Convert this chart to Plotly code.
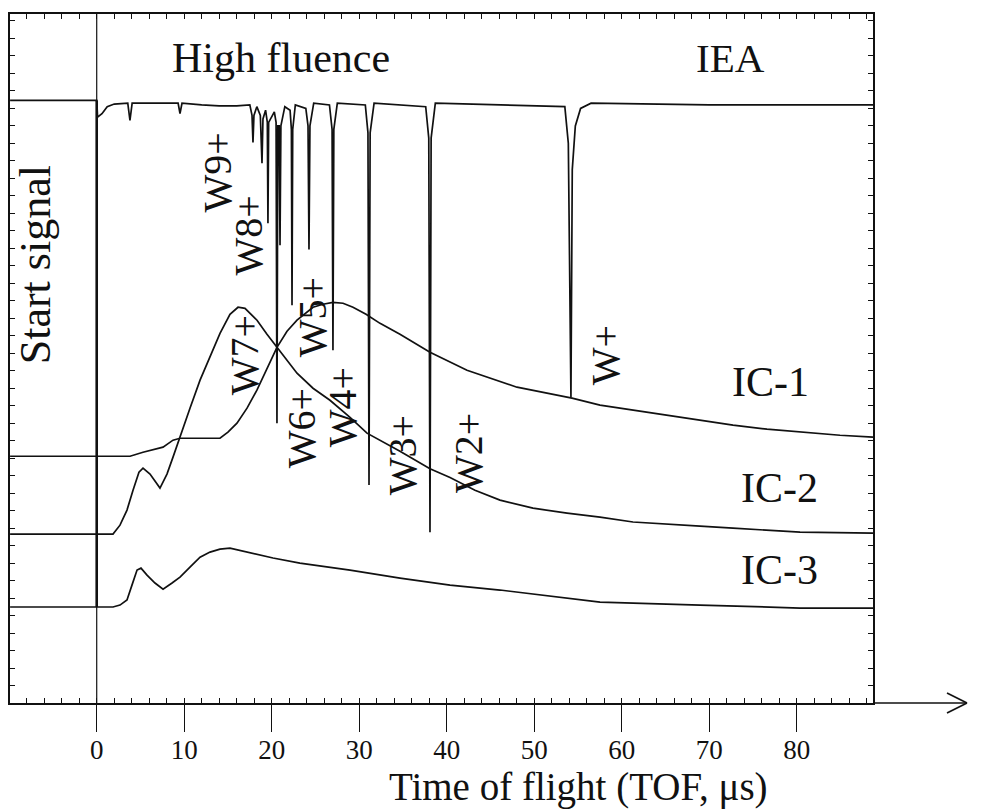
import plotly.graph_objects as go

# ---------------- data (TOF in microseconds, signal in arbitrary divisions) ----------------
iea_tof = [-9.9, 0.0, 0.1, 0.6, 1.2, 2.0, 3.55, 3.8, 4.05, 6.0, 9.3, 9.52, 9.75, 12.0, 14.0, 16.0,
           17.5, 17.75, 17.86, 17.97, 18.3, 18.7, 18.89, 19.0, 19.3, 19.5, 19.57, 19.65, 20.3, 20.5,
           20.6, 20.7, 20.85, 20.95, 21.05, 21.5, 22.1, 22.25, 22.32, 22.4, 22.7, 23.9, 24.15, 24.26,
           24.37, 24.8, 26.6, 26.9, 27.0, 27.1, 27.5, 30.7, 31.0, 31.12, 31.25, 31.7, 37.6, 37.95,
           38.09, 38.22, 38.7, 53.5, 53.9, 54.2, 54.35, 54.7, 55.3, 56.5, 70.0, 88.72]
iea_signal = [34.46, 34.46, 33.5, 33.7, 34.1, 34.25, 34.3, 33.31, 34.3, 34.3, 34.3, 33.71, 34.3, 34.2,
              34.15, 34.15, 34.2, 33.6, 32.06, 33.6, 34.1, 33.6, 30.86, 33.4, 33.9, 33.2, 27.43, 33.2,
              33.8, 33.2, 16.0, 33.0, 33.0, 26.17, 33.0, 34.1, 33.9, 32.8, 22.74, 32.8, 34.2, 34.0,
              33.0, 25.94, 33.0, 34.3, 34.2, 32.8, 20.17, 32.8, 34.3, 34.2, 32.6, 12.46, 32.6, 34.3,
              34.1, 32.3, 9.77, 32.3, 34.3, 34.1, 32.0, 17.49, 30.5, 33.0, 34.0, 34.3, 34.2, 34.2]

ic1_tof = [-9.9, 0.0, 3.81, 5.29, 7.58, 8.72, 9.52, 14.09, 15.0, 16.03, 17.18, 18.31, 19.46, 20.6,
           21.75, 22.89, 24.72, 25.86, 27.0, 28.15, 29.29, 30.78, 32.38, 34.66, 38.09, 42.32, 48.03,
           54.32, 57.52, 61.29, 65.18, 68.95, 72.72, 76.6, 80.38, 84.95, 88.72]
ic1_signal = [14.11, 14.11, 14.11, 14.34, 14.63, 15.03, 15.14, 15.14, 15.49, 16.0, 16.86, 17.89, 19.14,
              20.34, 21.26, 21.89, 22.63, 22.8, 22.91, 22.86, 22.63, 22.23, 21.71, 21.09, 20.06, 19.03,
              18.06, 17.43, 17.03, 16.74, 16.46, 16.17, 15.89, 15.66, 15.49, 15.31, 15.2]

ic2_tof = [-9.9, 1.86, 2.66, 3.46, 4.15, 4.83, 5.29, 6.09, 7.23, 8.03, 8.72, 9.75, 10.66, 11.81, 12.95,
           14.09, 15.23, 16.15, 16.95, 18.32, 19.46, 20.6, 22.89, 24.72, 26.66, 28.95, 30.89, 34.66,
           38.09, 40.38, 43.23, 46.09, 49.86, 53.75, 57.52, 61.29, 65.18, 68.95, 72.72, 80.38, 88.72]
ic2_signal = [9.66, 9.66, 10.17, 11.03, 12.17, 13.2, 13.43, 13.09, 12.29, 13.09, 14.06, 15.6, 16.86,
              18.46, 19.83, 21.14, 22.23, 22.63, 22.57, 21.89, 21.09, 20.34, 18.86, 18.0, 17.31, 16.34,
              15.43, 14.4, 13.4, 12.9, 12.17, 11.6, 11.14, 10.86, 10.63, 10.35, 10.25, 10.11, 10.0,
              9.77, 9.71]

ic3_tof = [-9.9, 1.86, 2.66, 3.46, 4.03, 4.61, 5.06, 5.75, 6.66, 7.58, 8.61, 9.52, 10.66, 11.81, 12.95,
           14.09, 15.23, 17.86, 20.15, 23.22, 28.95, 34.66, 40.38, 46.09, 51.8, 57.52, 68.95, 80.38, 88.72]
ic3_signal = [5.49, 5.49, 5.6, 5.89, 6.74, 7.6, 7.71, 7.31, 6.86, 6.51, 6.86, 7.2, 7.77, 8.34, 8.63,
              8.8, 8.86, 8.57, 8.29, 8.0, 7.6, 7.14, 6.74, 6.46, 6.11, 5.77, 5.6, 5.43, 5.43]

start_tof = [0.0, 0.0]
start_full = [0.0, 39.4]
start_strong = [5.49, 34.46]

x_ticks = [0, 10, 20, 30, 40, 50, 60, 70, 80]
x_range = [-9.91, 88.72]
y_range = [0.0, 39.4]

# labels: text, tof, signal, angle, size
label_text = ["High fluence", "IEA", "Start signal", "W9+", "W8+", "W7+", "W6+", "W5+", "W4+",
              "W3+", "W2+", "W+", "IC-1", "IC-2", "IC-3"]
label_tof = [21.06, 72.49, -7.05, 13.75, 17.29, 16.83, 23.35, 24.6, 28.03, 34.89, 42.43, 58.09,
             76.95, 78.09, 77.98]
label_sig = [36.91, 36.91, 25.03, 30.34, 26.74, 19.89, 15.71, 22.06, 16.91, 14.17, 14.29, 19.89,
             18.34, 12.29, 7.6]
label_angle = [0, 0, -90, -90, -90, -90, -90, -90, -90, -90, -90, -90, 0, 0, 0]
label_size = [42, 41, 44, 40, 40, 40, 40, 40, 40, 40, 40, 40, 42, 42, 42]

x_title = "Time of flight (TOF, μs)"

FONT = "Liberation Serif"
INK = "#111111"

fig = go.Figure()

line = dict(color=INK, width=1.7)
fig.add_trace(go.Scatter(x=start_tof, y=start_full, mode="lines", line=dict(color=INK, width=1.2),
                         hoverinfo="skip", showlegend=False))
fig.add_trace(go.Scatter(x=start_tof, y=start_strong, mode="lines", line=dict(color=INK, width=2.6),
                         hoverinfo="skip", showlegend=False))
for xs, ys in [(iea_tof, iea_signal), (ic1_tof, ic1_signal), (ic2_tof, ic2_signal), (ic3_tof, ic3_signal)]:
    fig.add_trace(go.Scatter(x=xs, y=ys, mode="lines", line=line, hoverinfo="skip", showlegend=False))

# dummy trace to activate the top axis
fig.add_trace(go.Scatter(x=[x_range[0]], y=[y_range[0]], xaxis="x2", mode="markers",
                         marker=dict(opacity=0), hoverinfo="skip", showlegend=False))

for t, x, y, a, s in zip(label_text, label_tof, label_sig, label_angle, label_size):
    fig.add_annotation(x=x, y=y, text=t, textangle=a, showarrow=False,
                       font=dict(family=FONT, size=s, color=INK), xanchor="center", yanchor="middle")

# arrow continuing the time axis
W_PLOT, H_PLOT = 863.0, 689.0
def px(xp):
    return (xp - 10.0) / W_PLOT
def py(yp):
    return (703.0 - yp) / H_PLOT

fig.add_annotation(xref="paper", yref="paper", x=px(578), y=py(787), text=x_title, showarrow=False,
                   font=dict(family=FONT, size=39, color=INK), xanchor="center", yanchor="middle")

fig.add_shape(type="line", xref="paper", yref="paper", x0=1.0, x1=px(966), y0=0, y1=0,
              line=dict(color=INK, width=1.6))
fig.add_shape(type="line", xref="paper", yref="paper", x0=px(947), x1=px(967), y0=py(693), y1=py(703),
              line=dict(color=INK, width=1.6))
fig.add_shape(type="line", xref="paper", yref="paper", x0=px(947), x1=px(967), y0=py(713), y1=py(703),
              line=dict(color=INK, width=1.6))

fig.update_layout(
    width=983, height=809, autosize=False,
    margin=dict(l=10, r=110, t=14, b=106),
    paper_bgcolor="white", plot_bgcolor="white",
    showlegend=False,
    xaxis=dict(range=x_range, showgrid=False, zeroline=False, showline=True, linecolor=INK, linewidth=1.6,
               tickmode="array", tickvals=x_ticks, ticktext=[str(v) for v in x_ticks],
               ticks="outside", ticklen=27, tickwidth=1, tickcolor=INK, ticklabelstandoff=-5,
               tickfont=dict(family=FONT, size=27, color=INK),
               minor=dict(tick0=0, dtick=2, ticks="inside", ticklen=5, tickwidth=1, tickcolor=INK, showgrid=False)),
    xaxis2=dict(range=x_range, overlaying="x", side="top", showgrid=False, zeroline=False, showline=True,
                linecolor=INK, linewidth=1.6, tick0=0, dtick=2, ticks="inside", ticklen=5, tickwidth=1,
                tickcolor=INK, showticklabels=False),
    yaxis=dict(range=y_range, showgrid=False, zeroline=False, showline=True, linecolor=INK, linewidth=1.6,
               mirror="ticks", tick0=0, dtick=1, ticks="inside", ticklen=5, tickwidth=1, tickcolor=INK,
               showticklabels=False),
)

fig.write_html("out.html")
